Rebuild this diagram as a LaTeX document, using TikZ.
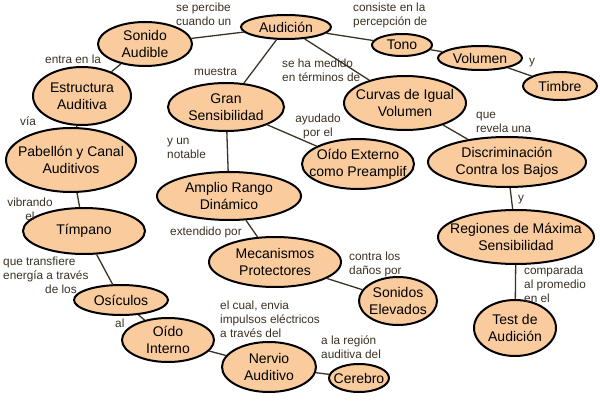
\documentclass[tikz,border=0pt]{standalone}
\usepackage{fontspec}
\setmainfont{Liberation Sans}
\usetikzlibrary{shapes.geometric}
\definecolor{peach}{HTML}{F9CB9D}
\definecolor{linkcol}{HTML}{3A3022}
\definecolor{edgecol}{HTML}{3B3325}
\begin{document}
\begin{tikzpicture}[x=1pt,y=-1pt,
    concept/.style 2 args={ellipse, draw=black, line width=2pt, fill=peach,
        inner xsep=-12pt, inner ysep=-4pt, minimum width=#1, minimum height=#2,
        align=center, font=\fontsize{14}{17}\selectfont},
    link/.style={inner sep=0pt, text=linkcol, align=left,
        font=\fontsize{11.8}{14}\selectfont},
    conn/.style={draw=edgecol, line width=1.3pt}]
  \useasboundingbox (0,0) rectangle (600,401);
  % conceptos
  \node[concept={90}{24}] (aud) at (286,27) {Audición};
  \node[concept={94}{44}] (sonido) at (145,44) {Sonido\\Audible};
  \node[concept={60}{22}] (tono) at (402,45) {Tono};
  \node[concept={84}{24}] (vol) at (480,58) {Volumen};
  \node[concept={74}{28}] (timbre) at (560,86) {Timbre};
  \node[concept={98}{58}] (estr) at (82,96) {Estructura\\Auditiva};
  \node[concept={116}{48}] (gran) at (226,107) {Gran\\Sensibilidad};
  \node[concept={122}{54}] (curvas) at (405,103) {Curvas de Igual\\Volumen};
  \node[concept={130}{64}] (pab) at (71,160) {Pabellón y Canal\\Auditivos};
  \node[concept={112}{50}] (oidoext) at (358,164) {Oído Externo\\como Preamplif};
  \node[concept={158}{50}] (discr) at (507,162) {Discriminación\\Contra los Bajos};
  \node[concept={144}{48}] (amplio) at (229,196) {Amplio Rango\\Dinámico};
  \node[concept={122}{46}] (timp) at (84,231) {Tímpano};
  \node[concept={156}{54}] (reg) at (516,237) {Regiones de Máxima\\Sensibilidad};
  \node[concept={132}{50}] (meca) at (275,262) {Mecanismos\\Protectores};
  \node[concept={94}{30}] (osic) at (121,300) {Osículos};
  \node[concept={78}{48}] (sonel) at (398,301) {Sonidos\\Elevados};
  \node[concept={82}{56}] (test) at (515,328) {Test de\\Audición};
  \node[concept={92}{44}] (oidoint) at (168,340) {Oído\\Interno};
  \node[concept={94}{50}] (nervio) at (269,367) {Nervio\\Auditivo};
  \node[concept={60}{28}] (cerebro) at (359,378) {Cerebro};
  % enlaces
  \draw[conn] (aud) -- (sonido);
  \draw[conn] (aud) -- (tono);
  \draw[conn] (tono) -- (vol);
  \draw[conn] (vol) -- (timbre);
  \draw[conn] (aud) -- (gran);
  \draw[conn] (aud) -- (curvas);
  \draw[conn] (sonido) -- (estr);
  \draw[conn] (estr) -- (pab);
  \draw[conn] (pab) -- (timp);
  \draw[conn] (timp) -- (osic);
  \draw[conn] (osic) -- (oidoint);
  \draw[conn] (oidoint) -- (nervio);
  \draw[conn] (nervio) -- (cerebro);
  \draw[conn] (gran) -- (amplio);
  \draw[conn] (gran) -- (oidoext);
  \draw[conn] (amplio) -- (meca);
  \draw[conn] (meca) -- (sonel);
  \draw[conn] (curvas) -- (discr);
  \draw[conn] (discr) -- (reg);
  \draw[conn] (reg) -- (test);
  % frases de enlace (base = ultima linea)
  \node[link, anchor=base west] (l1) at (176,26) {se percibe\\cuando un};
  \node[link, anchor=base west] (l2) at (353,26) {consiste en la\\percepción de};
  \node[link, anchor=base west] (l3) at (45,64) {entra en la};
  \node[link, anchor=base west] (l4) at (194,76) {muestra};
  \node[link, anchor=base west] (l5) at (282,82) {se ha medido\\en términos de};
  \node[link, anchor=base west] (l6) at (529,65) {y};
  \node[link, anchor=base west] (l7) at (20,126) {vía};
  \node[link, anchor=base west] (l8) at (167,159) {y un\\notable};
  \node[link, anchor=base, align=center] (l9) at (318,137) {ayudado\\por el};
  \node[link, anchor=base west] (l10) at (476,133) {que\\revela una};
  \node[link, anchor=base, align=center] (l11) at (30,220) {vibrando\\el};
  \node[link, anchor=base west] (l12) at (170,235) {extendido por};
  \node[link, anchor=base west] (l13) at (3,293) {que transfiere\\energía a través\\\hspace*{42pt}de los};
  \node[link, anchor=base west] (l14) at (115,327) {al};
  \node[link, anchor=base west] (l15) at (518,201) {y};
  \node[link, anchor=base west] (l16) at (349,274) {contra los\\daños por};
  \node[link, anchor=base west] (l17) at (524,302) {comparada\\al promedio\\en el};
  \node[link, anchor=base west] (l18) at (220,337) {el cual, envia\\impulsos eléctricos\\a través del};
  \node[link, anchor=base west] (l19) at (321,358) {a la región\\auditiva del};
\end{tikzpicture}
\end{document}
